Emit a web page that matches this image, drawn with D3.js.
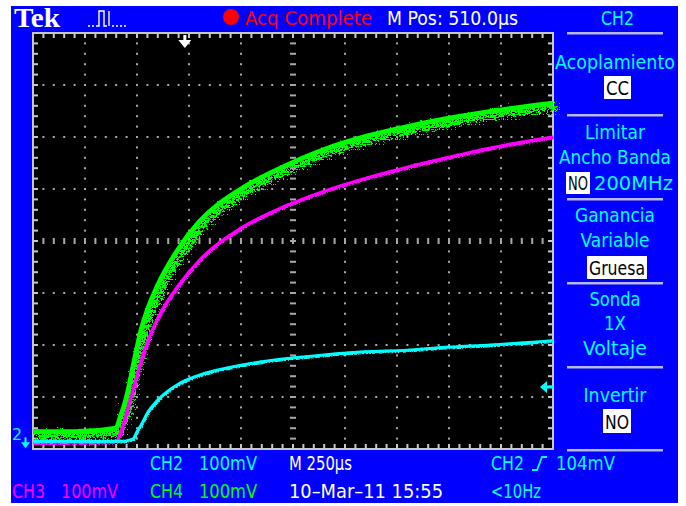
<!DOCTYPE html>
<html>
<head>
<meta charset="utf-8">
<script src="https://cdn.jsdelivr.net/npm/d3@7"></script>
<style>
  body { margin: 0; background: #fff; }
  svg text { font-family: "Liberation Sans Narrow", "DejaVu Sans Condensed", "DejaVu Sans", sans-serif; }
</style>
</head>
<body>
<svg id="scope" width="686" height="506"></svg>
<script>
// tiempos en µs (250 µs/div, 10 div)
const timeUs = [0, 200, 400, 420, 440, 460, 480, 500, 520, 550, 600, 700, 800, 1000, 1200, 1400, 1600, 1800, 2000, 2200, 2500];
// tensiones en mV (100 mV/div)
const ch2 = [0, 0, 0, 0, 0, 2, 4, 18, 31, 54, 79, 110, 127, 146, 158, 166, 172, 175, 181, 185, 193];
const ch3 = [-3, -3, 0, 16, 41, 70, 98, 127, 156, 191, 237, 300, 348, 410, 450, 481, 506, 527, 546, 564, 585];
const ch4 = [18, 18, 25, 47, 70, 102, 141, 179, 214, 252, 300, 370, 422, 485, 527, 561, 586, 605, 621, 634, 650];

const timeDomain = [0, 2500];
const voltDomain = [-15, 785];
const triggerUs = 730;
const triggerLevel = 104;

const topTexts = ["Acq Complete", "M Pos: 510.0\u00b5s"];
const menuTitle = "CH2";

const svg = d3.select("#scope");
const x = d3.scaleLinear().domain(timeDomain).range([33, 553]);
const y = d3.scaleLinear().domain(voltDomain).range([449, 33]);

// fondo azul
svg.append("rect").attr("x", 11).attr("y", 6).attr("width", 667).attr("height", 497).attr("fill", "#0000ff");
svg.append("rect").attr("x", 33).attr("y", 33).attr("width", 520).attr("height", 416).attr("fill", "#000");

const grid = svg.append("g").attr("fill", "#a8a8a8");
const minor = d3.range(0, 2500.1, 50);
const minorV = d3.range(-15, 785.1, 20);
const majorT = d3.range(250, 2500, 250);
const majorV = d3.range(85, 785, 100);

// retícula punteada
majorT.forEach(t => {
    if (t === 1250) return;
    minorV.slice(1, -1).forEach(v => {
        grid.append("rect").attr("x", x(t) - 1).attr("y", y(v) - 1).attr("width", 2).attr("height", 2);
    });
});
majorV.forEach(v => {
    if (v === 385) return;
    minor.slice(1, -1).forEach(t => {
        grid.append("rect").attr("x", x(t) - 1).attr("y", y(v) - 1).attr("width", 2).attr("height", 2);
    });
});
// ejes centrales con marcas
minor.slice(1, -1).forEach(t => {
    grid.append("rect").attr("x", x(t) - 1).attr("y", y(385) - 3).attr("width", 2).attr("height", 6);
});
minorV.slice(1, -1).forEach(v => {
    grid.append("rect").attr("x", x(1250) - 3).attr("y", y(v) - 1).attr("width", 6).attr("height", 2);
});

// marco con marcas
const frame = svg.append("g").attr("stroke", "#c8c8c8").attr("stroke-width", 2);
frame.append("rect").attr("x", 33).attr("y", 33).attr("width", 520).attr("height", 416).attr("fill", "none");
minor.slice(1, -1).forEach(t => {
    frame.append("line").attr("x1", x(t)).attr("x2", x(t)).attr("y1", 33).attr("y2", 38);
    frame.append("line").attr("x1", x(t)).attr("x2", x(t)).attr("y1", 449).attr("y2", 444);
});
minorV.slice(1, -1).forEach(v => {
    frame.append("line").attr("x1", 33).attr("x2", 38).attr("y1", y(v)).attr("y2", y(v));
    frame.append("line").attr("x1", 553).attr("x2", 548).attr("y1", y(v)).attr("y2", y(v));
});

// trazas (el ruido es solo un filtro visual)
const defs = svg.append("defs");
function noiseFilter(id, freq, scale, seed) {
    const f = defs.append("filter").attr("id", id).attr("x", "-5%").attr("y", "-5%").attr("width", "110%").attr("height", "110%");
    f.append("feTurbulence").attr("type", "turbulence").attr("baseFrequency", freq).attr("numOctaves", 2).attr("seed", seed).attr("result", "t");
    f.append("feDisplacementMap").attr("in", "SourceGraphic").attr("in2", "t").attr("scale", scale).attr("xChannelSelector", "R").attr("yChannelSelector", "G");
}
noiseFilter("noiseG", "0.25 0.6", 15, 3);
noiseFilter("noiseM", "0.3 0.6", 3, 5);
noiseFilter("noiseC", "0.3 0.6", 2, 7);

const line = vals => d3.line()
    .x((d, i) => x(timeUs[i]))
    .y(d => y(d))
    .curve(d3.curveMonotoneX)(vals);

const traces = svg.append("g").attr("fill", "none").attr("stroke-linejoin", "round");
traces.append("path").attr("d", line(ch4)).attr("stroke", "#00ff00").attr("stroke-width", 5);
traces.append("path").attr("d", line(ch4)).attr("stroke", "#00ff00").attr("stroke-width", 6).attr("filter", "url(#noiseG)");
traces.append("path").attr("d", line(ch3)).attr("stroke", "#ff00ff").attr("stroke-width", 3);
traces.append("path").attr("d", line(ch3)).attr("stroke", "#ff00ff").attr("stroke-width", 3).attr("filter", "url(#noiseM)");
traces.append("path").attr("d", line(ch2)).attr("stroke", "#00ffff").attr("stroke-width", 3);
traces.append("path").attr("d", line(ch2)).attr("stroke", "#00ffff").attr("stroke-width", 2.5).attr("filter", "url(#noiseC)");

// disparo
const tx = x(triggerUs);
svg.append("path").attr("d", `M${tx - 1.5},35 h3 v5 h5 l-6.5,8 l-6.5,-8 h5 z`).attr("fill", "#fff");
const ty = y(triggerLevel);
svg.append("path").attr("d", `M540,${ty} l7,-6 v4.5 h6 v3 h-6 v4.5 z`).attr("fill", "#00ffff");
// marcador de tierra CH2
svg.append("text").attr("x", 12).attr("y", y(0) - 1).attr("font-size", 16).attr("fill", "#00ffff")
    .style("font-family", "'DejaVu Sans', sans-serif").text("2");
svg.append("path").attr("d", `M21,${y(0) + 1} h9 l-4.5,6 z M24.5,${y(0) - 4} h2 v5 h-2 z`).attr("fill", "#00ffff");

// encabezado
svg.append("text").attr("x", 14).attr("y", 27).attr("font-size", 27).attr("font-weight", "bold")
    .style("font-family", "'Liberation Serif', 'DejaVu Serif', serif").attr("fill", "#fff")
    .attr("textLength", 46).attr("lengthAdjust", "spacingAndGlyphs").text("Tek");
svg.append("path").attr("d", "M88,26 h2 M92,26 h2 M96,26 h3 V11 h5 V26 h3 M109,26 V11 M112,26 h2 M116,26 h2 M120,26 h2 M124,26 h2")
    .attr("stroke", "#fff").attr("stroke-width", 1.4).attr("fill", "none");
svg.append("circle").attr("cx", 231).attr("cy", 17).attr("r", 8).attr("fill", "#ff0000");

function label(txt, x0, base, color, w, anchor) {
    return svg.append("text").attr("x", x0).attr("y", base).attr("font-size", 20).attr("fill", color)
        .attr("text-anchor", anchor || "start")
        .attr("textLength", w).attr("lengthAdjust", "spacingAndGlyphs").text(txt);
}
label(topTexts[0], 245, 25, "#ff0000", 127);
label(topTexts[1], 387, 25, "#ffffff", 131);
label(menuTitle, 601, 25, "#00ffff", 33);

// pie
label("CH2", 150, 470, "#00ffff", 33);
label("100mV", 199, 470, "#00ffff", 58);
label("M 250\u00b5s", 289, 470, "#ffffff", 63);
label("CH2", 491, 470, "#00ffff", 33);
svg.append("path").attr("d", "M532,470 h5 l5,-13 h5").attr("stroke", "#00ffff").attr("stroke-width", 1.8).attr("fill", "none");
label("104mV", 556, 470, "#00ffff", 59);
label("CH3", 12, 498, "#ff00ff", 33);
label("100mV", 61, 498, "#ff00ff", 57);
label("CH4", 150, 498, "#00ff00", 33);
label("100mV", 199, 498, "#00ff00", 58);
label("10\u2013Mar\u201311 15:55", 289, 498, "#ffffff", 154);
label("<10Hz", 491, 498, "#00ffff", 50);

// menú lateral
const sepY = [33, 115, 199, 283, 367, 450];
sepY.forEach(v => svg.append("rect").attr("x", 567).attr("y", v - 1).attr("width", 96).attr("height", 2.5).attr("fill", "#b8b8e8"));

const menuLines = [
    ["Acoplamiento", 69, 120], ["Limitar", 139, 60], ["Ancho Banda", 164, 112],
    ["Ganancia", 222, 80], ["Variable", 247, 69], ["Sonda", 306, 51], ["1X", 330, 22],
    ["Voltaje", 355, 64], ["Invertir", 402, 63]
];
menuLines.forEach(d => label(d[0], 615, d[1], "#00ffff", d[2], "middle"));

const boxes = [["CC", 604, 76, 27, 23], ["NO", 566, 172, 24, 22], ["Gruesa", 587, 256, 60, 23], ["NO", 603, 409, 28, 24]];
boxes.forEach(b => {
    svg.append("rect").attr("x", b[1]).attr("y", b[2]).attr("width", b[3]).attr("height", b[4]).attr("fill", "#fff");
    label(b[0], b[1] + b[3] / 2, b[2] + b[4] - 4, "#000", b[3] - 4, "middle");
});
label("200MHz", 594, 190, "#00ffff", 79);
</script>
</body>
</html>
